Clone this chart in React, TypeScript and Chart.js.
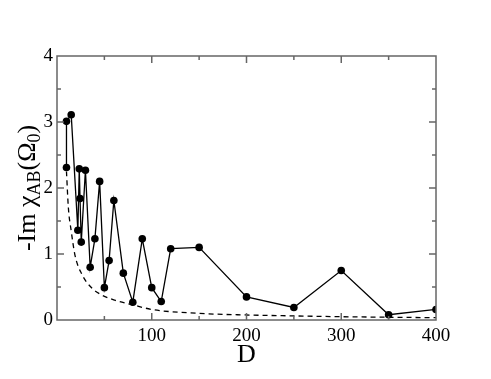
import React, { useEffect, useRef } from "react";
import { Chart, registerables } from "chart.js";

Chart.register(...registerables);

const dValues = [10, 10, 15, 22, 23.5, 24.3, 25.6, 30, 35, 40, 45, 50, 55, 60, 70, 80, 90, 100, 110, 120, 150, 200, 250, 300, 350, 400];
const imChi = [2.31, 3.01, 3.11, 1.36, 2.29, 1.84, 1.18, 2.27, 0.8, 1.23, 2.1, 0.49, 0.9, 1.81, 0.71, 0.27, 1.23, 0.49, 0.28, 1.08, 1.1, 0.35, 0.19, 0.75, 0.08, 0.16];

const dashD = [10, 12, 15, 19, 26, 37, 47, 61, 80, 100, 150, 200, 250, 300, 350, 400];
const dashY = [2.25, 1.7, 1.35, 0.98, 0.7, 0.48, 0.38, 0.3, 0.23, 0.16, 0.1, 0.076, 0.062, 0.05, 0.042, 0.035];

const xTickLabels = [100, 200, 300, 400];
const yTickLabels = [0, 1, 2, 3, 4];

const SERIF = "'Liberation Serif', 'DejaVu Serif', serif";

const framePlugin = {
  id: "frameTicks",
  afterDraw(chart: any) {
    const ctx = chart.ctx;
    const { left, right, top, bottom } = chart.chartArea;
    const xs = chart.scales.x;
    const ys = chart.scales.y;
    ctx.save();
    ctx.strokeStyle = "#666";
    ctx.lineWidth = 1.5;
    ctx.strokeRect(left, top, right - left, bottom - top);
    ctx.beginPath();
    for (let v = 50; v < 400; v += 50) {
      const px = xs.getPixelForValue(v);
      const len = v % 100 === 0 ? 7 : 4;
      ctx.moveTo(px, bottom);
      ctx.lineTo(px, bottom - len);
      ctx.moveTo(px, top);
      ctx.lineTo(px, top + len);
    }
    for (let v = 0.5; v < 4; v += 0.5) {
      const py = ys.getPixelForValue(v);
      const len = Math.abs(v - Math.round(v)) < 1e-6 ? 7 : 4;
      ctx.moveTo(left, py);
      ctx.lineTo(left + len, py);
      ctx.moveTo(right, py);
      ctx.lineTo(right - len, py);
    }
    ctx.stroke();

    // axis titles
    ctx.fillStyle = "#000";
    ctx.font = `26px ${SERIF}`;
    ctx.textAlign = "center";
    ctx.textBaseline = "alphabetic";
    ctx.fillText("D", (left + right) / 2, 362);

    // y title with subscripts
    const parts: [string, boolean][] = [
      ["-Im \u03C7", false],
      ["AB", true],
      ["(\u03A9", false],
      ["0", true],
      [")", false],
    ];
    const mainFont = `26px ${SERIF}`;
    const subFont = `18px ${SERIF}`;
    let total = 0;
    const widths: number[] = [];
    for (const [t, sub] of parts) {
      ctx.font = sub ? subFont : mainFont;
      const w = ctx.measureText(t).width;
      widths.push(w);
      total += w;
    }
    ctx.translate(35, (top + bottom) / 2);
    ctx.rotate(-Math.PI / 2);
    ctx.textAlign = "left";
    let x = -total / 2;
    parts.forEach(([t, sub], i) => {
      ctx.font = sub ? subFont : mainFont;
      ctx.fillText(t, x, sub ? 5 : 0);
      x += widths[i];
    });
    ctx.restore();
  },
};

export default function App() {
  const ref = useRef<HTMLCanvasElement | null>(null);
  useEffect(() => {
    if (!ref.current) return;
    const chart = new Chart(ref.current, {
      type: "scatter",
      data: {
        datasets: [
          {
            data: dValues.map((d, i) => ({ x: d, y: imChi[i] })),
            showLine: true,
            borderColor: "#000",
            backgroundColor: "#000",
            borderWidth: 1.3,
            pointRadius: 3.8,
            pointBorderWidth: 0,
            pointBackgroundColor: "#000",
          },
          {
            data: dashD.map((d, i) => ({ x: d, y: dashY[i] })),
            showLine: true,
            borderColor: "#000",
            borderWidth: 1.3,
            borderDash: [5, 4],
            pointRadius: 0,
            cubicInterpolationMode: "monotone",
          },
        ],
      },
      options: {
        responsive: false,
        animation: false,
        layout: { padding: { left: 0, top: 56, right: 55, bottom: 0 } },
        plugins: { legend: { display: false }, tooltip: { enabled: false } },
        scales: {
          x: {
            type: "linear",
            min: 0,
            max: 400,
            grid: { display: false, drawTicks: false },
            border: { display: false },
            afterFit: (s: any) => {
              s.height = 59;
            },
            afterBuildTicks: (s: any) => {
              s.ticks = xTickLabels.map((v) => ({ value: v }));
            },
            ticks: {
              padding: 5,
              color: "#000",
              font: { family: SERIF, size: 19 },
              maxRotation: 0,
              autoSkip: false,
            },
          },
          y: {
            type: "linear",
            min: 0,
            max: 4,
            grid: { display: false, drawTicks: false },
            border: { display: false },
            afterFit: (s: any) => {
              s.width = 57;
            },
            afterBuildTicks: (s: any) => {
              s.ticks = yTickLabels.map((v) => ({ value: v }));
            },
            ticks: {
              padding: 4,
              color: "#000",
              font: { family: SERIF, size: 19 },
              autoSkip: false,
            },
          },
        },
      },
      plugins: [framePlugin],
    });
    return () => chart.destroy();
  }, []);
  return (
    <div style={{ position: "absolute", left: 0, top: 0, width: 491, height: 379, background: "#fff" }}>
      <canvas ref={ref} width={491} height={379} style={{ display: "block" }} />
    </div>
  );
}
